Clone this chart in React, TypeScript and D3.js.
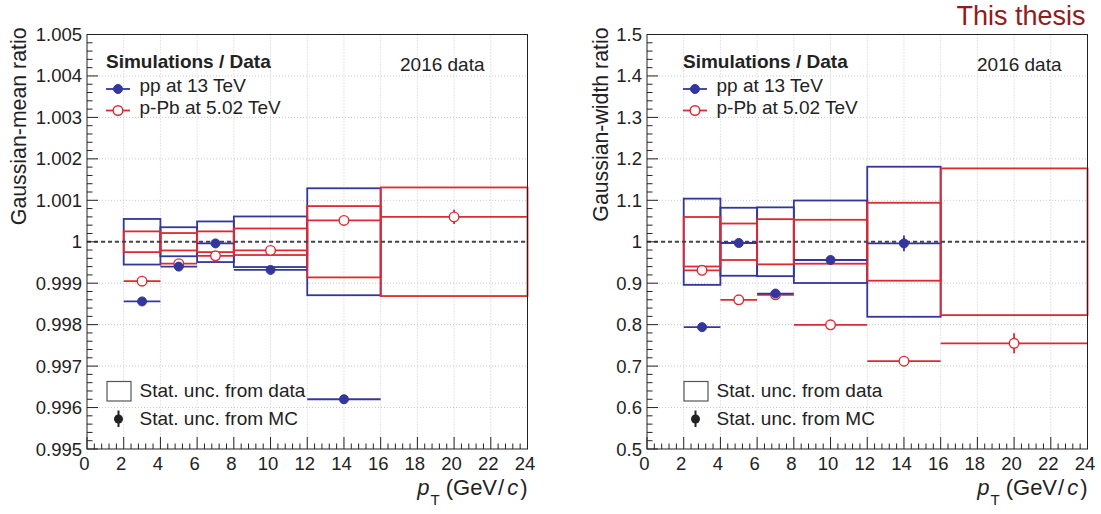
import React from "react";
import * as d3 from "d3";

// ---------- data ----------
const binLo = [2, 4, 6, 8, 12, 16];
const binHi = [4, 6, 8, 12, 16, 24];

// Gaussian-mean ratio
const ppMean = [0.99856, 0.9994, 0.99996, 0.99932, 0.9962];
const ppMeanErr = [0.00003, 0.00003, 0.00003, 0.00003, 0.0001];
const ppMeanDataUnc = [0.00055, 0.00035, 0.00049, 0.00061, 0.00129];
const pPbMean = [0.99905, 0.99947, 0.99966, 0.99979, 1.000515, 1.0006];
const pPbMeanErr = [0.00003, 0.00003, 0.00003, 0.00003, 0.00004, 0.00017];
const pPbMeanDataUnc = [0.00025, 0.00021, 0.00025, 0.00032, 0.00086, 0.00131];

// Gaussian-width ratio
const ppWidth = [0.794, 0.997, 0.875, 0.956, 0.996];
const ppWidthErr = [0.003, 0.004, 0.004, 0.004, 0.019];
const ppWidthDataUnc = [0.104, 0.082, 0.083, 0.0995, 0.181];
const pPbWidth = [0.931, 0.86, 0.872, 0.7995, 0.712, 0.755];
const pPbWidthErr = [0.004, 0.004, 0.004, 0.004, 0.012, 0.024];
const pPbWidthDataUnc = [0.0597, 0.044, 0.0545, 0.053, 0.094, 0.177];

const xTickLabels = ["0", "2", "4", "6", "8", "10", "12", "14", "16", "18", "20", "22", "24"];
const meanTickLabels = ["0.995", "0.996", "0.997", "0.998", "0.999", "1", "1.001", "1.002", "1.003", "1.004", "1.005"];
const widthTickLabels = ["0.5", "0.6", "0.7", "0.8", "0.9", "1", "1.1", "1.2", "1.3", "1.4", "1.5"];

const BLUE = "#33379b";
const RED = "#dd2a32";
const FONT = "'Liberation Sans', Arial, sans-serif";

type Series = { val: number[]; err: number[]; unc: number[] };

function Panel(props: {
  x0: number;
  x1: number;
  yDomain: [number, number];
  yTickLabels: string[];
  yLabel: string;
  labelX: number;
  legendX: number;
  pp: Series;
  pPb: Series;
}) {
  const { x0, x1, yDomain, yTickLabels, yLabel, labelX, legendX, pp, pPb } = props;
  const top = 34.5;
  const bottom = 449;
  const x = d3.scaleLinear().domain([0, 24]).range([x0, x1]);
  const y = d3.scaleLinear().domain(yDomain).range([bottom, top]);
  const yMajor = yTickLabels.map((t) => +t);
  const xMajor = xTickLabels.map((t) => +t);
  const yMinor = d3.range(0, 51).map((i) => yDomain[0] + ((yDomain[1] - yDomain[0]) * i) / 50);
  const xMinor = d3.range(0, 61).map((i) => i * 0.4);

  const boxes = (s: Series, color: string) =>
    s.unc.map((u, i) => (
      <rect
        key={color + "b" + i}
        x={x(binLo[i])}
        y={y(1 + u)}
        width={x(binHi[i]) - x(binLo[i])}
        height={y(1 - u) - y(1 + u)}
        fill="none"
        stroke={color}
        strokeWidth={1.8}
      />
    ));

  const markers = (s: Series, color: string, open: boolean) =>
    s.val.map((v, i) => {
      const cx = x((binLo[i] + binHi[i]) / 2);
      return (
        <g key={color + "m" + i}>
          <line x1={x(binLo[i])} x2={x(binHi[i])} y1={y(v)} y2={y(v)} stroke={color} strokeWidth={1.8} />
          <line x1={cx} x2={cx} y1={y(v - s.err[i])} y2={y(v + s.err[i])} stroke={color} strokeWidth={1.8} />
          <circle
            cx={cx}
            cy={y(v)}
            r={open ? 4.8 : 4.5}
            fill={open ? "white" : color}
            stroke={color}
            strokeWidth={open ? 1.4 : 1}
          />
        </g>
      );
    });

  const lx = legendX;
  return (
    <g>
      {/* grid */}
      {xMajor.slice(1, -1).map((v) => (
        <line key={"gx" + v} x1={x(v)} x2={x(v)} y1={top} y2={bottom} stroke="#c8c8c8" strokeWidth={1} strokeDasharray="1,2" />
      ))}
      {yMajor.slice(1, -1).map((v) => (
        <line key={"gy" + v} x1={x0} x2={x1} y1={y(v)} y2={y(v)} stroke="#c8c8c8" strokeWidth={1} strokeDasharray="1,2" />
      ))}
      {/* boxes */}
      {boxes(pp, BLUE)}
      {boxes(pPb, RED)}
      {/* unity line */}
      <line x1={x0} x2={x1} y1={y(1)} y2={y(1)} stroke="#444" strokeWidth={2} strokeDasharray="4,3" />
      {/* markers */}
      {markers(pPb, RED, true)}
      {markers(pp, BLUE, false)}
      {/* frame */}
      <rect x={x0} y={top} width={x1 - x0} height={bottom - top} fill="none" stroke="#222" strokeWidth={1} />
      {/* ticks */}
      {yMinor.map((v, i) => (
        <line key={"ym" + i} x1={x0} x2={x0 + (i % 5 === 0 ? 11 : 5.5)} y1={y(v)} y2={y(v)} stroke="#222" strokeWidth={1} />
      ))}
      {xMinor.map((v, i) => (
        <line key={"xm" + i} x1={x(v)} x2={x(v)} y1={bottom} y2={bottom - (i % 5 === 0 ? 12 : 5.5)} stroke="#222" strokeWidth={1} />
      ))}
      {/* tick labels */}
      {yTickLabels.map((t) => (
        <text key={"yl" + t} x={x0 - 5} y={y(+t) + 6.5} textAnchor="end" fontSize={18.5} fontFamily={FONT} fill="#222">
          {t}
        </text>
      ))}
      {xTickLabels.map((t) => (
        <text key={"xl" + t} x={x(+t) - 2.5} y={470} textAnchor="middle" fontSize={18.5} fontFamily={FONT} fill="#222">
          {t}
        </text>
      ))}
      {/* axis titles */}
      <text
        transform={`translate(${labelX},${top - 7}) rotate(-90)`}
        textAnchor="end"
        fontSize={21.3}
        fontFamily={FONT}
        fill="#222"
      >
        {yLabel}
      </text>
      <text x={x1} y={495} textAnchor="end" fontSize={22} fontFamily={FONT} fill="#222">
        <tspan fontStyle="italic">p</tspan>
        <tspan fontSize={15} dx={1} dy={10}>T</tspan>
        <tspan dy={-10} dx={6}>(GeV</tspan>
        <tspan dx={1}>/</tspan>
        <tspan fontStyle="italic" dx={3}>c</tspan>
        <tspan dx={2}>)</tspan>
      </text>
      {/* legend top */}
      <text x={lx} y={68} fontSize={19} fontWeight="bold" fontFamily={FONT} fill="#222">
        Simulations / Data
      </text>
      <line x1={lx} x2={lx + 24} y1={89} y2={89} stroke={BLUE} strokeWidth={1.8} />
      <circle cx={lx + 12} cy={89} r={4.5} fill={BLUE} stroke={BLUE} />
      <text x={lx + 33.5} y={92} fontSize={19} fontFamily={FONT} fill="#222">
        pp at 13 TeV
      </text>
      <line x1={lx} x2={lx + 24} y1={110.5} y2={110.5} stroke={RED} strokeWidth={1.8} />
      <circle cx={lx + 12} cy={110.5} r={4.8} fill="white" stroke={RED} strokeWidth={1.4} />
      <text x={lx + 33.5} y={113.5} fontSize={19} fontFamily={FONT} fill="#222">
        p-Pb at 5.02 TeV
      </text>
      <text x={lx + 294} y={70.5} fontSize={19} fontFamily={FONT} fill="#222">
        2016 data
      </text>
      {/* legend bottom */}
      <rect x={lx + 1} y={381.5} width={24} height={19.5} fill="white" stroke="#555" strokeWidth={1.2} />
      <text x={lx + 33.5} y={396.5} fontSize={19} fontFamily={FONT} fill="#222">
        Stat. unc. from data
      </text>
      <line x1={lx + 12.5} x2={lx + 12.5} y1={410.5} y2={427} stroke="#222" strokeWidth={2} />
      <circle cx={lx + 12.5} cy={419} r={4.5} fill="#222" />
      <text x={lx + 33.5} y={425} fontSize={19} fontFamily={FONT} fill="#222">
        Stat. unc. from MC
      </text>
    </g>
  );
}

export default function App() {
  return (
    <div style={{ position: "absolute", left: 0, top: 0 }}>
      <svg width={1101} height={514} style={{ display: "block", background: "white" }}>
        <Panel
          x0={87}
          x1={527.5}
          yDomain={[0.995, 1.005]}
          yTickLabels={meanTickLabels}
          yLabel="Gaussian-mean ratio"
          labelX={25.5}
          legendX={106}
          pp={{ val: ppMean, err: ppMeanErr, unc: ppMeanDataUnc }}
          pPb={{ val: pPbMean, err: pPbMeanErr, unc: pPbMeanDataUnc }}
        />
        <Panel
          x0={647}
          x1={1087.5}
          yDomain={[0.5, 1.5]}
          yTickLabels={widthTickLabels}
          yLabel="Gaussian-width ratio"
          labelX={607.5}
          legendX={683}
          pp={{ val: ppWidth, err: ppWidthErr, unc: ppWidthDataUnc }}
          pPb={{ val: pPbWidth, err: pPbWidthErr, unc: pPbWidthDataUnc }}
        />
        <text x={1085.5} y={25} textAnchor="end" fontSize={27} fontFamily={FONT} fill="#8f1d1d">
          This thesis
        </text>
      </svg>
    </div>
  );
}
